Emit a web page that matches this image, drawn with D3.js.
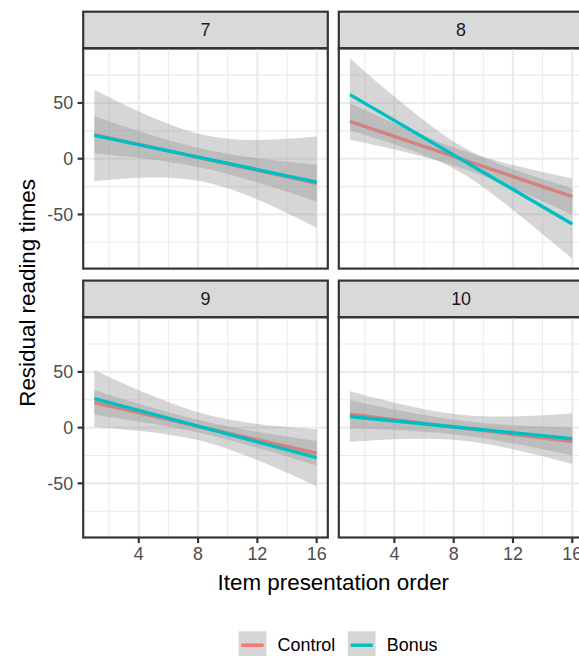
<!DOCTYPE html>
<html>
<head>
<meta charset="utf-8">
<script src="https://cdn.jsdelivr.net/npm/d3@7"></script>
<style>
  body { margin: 0; background: #fff; }
  svg { display: block; font-family: "Liberation Sans", Arial, Helvetica, sans-serif; }
</style>
</head>
<body>
<svg width="579" height="656"></svg>
<script>
// facets and groups
const facets = ["7", "8", "9", "10"];
const groups = ["Control", "Bonus"];

// fitted line ends (x = 1 and x = 16), one pair per facet
const fitX = [1, 16];
const fitControl = [[21.5, -22], [33.5, -34], [22.5, -23], [12, -12.5]];
const fitBonus = [[21, -21], [57.5, -58.5], [26, -27], [10, -10]];

// confidence band, read at these x positions
const ciX = [1, 3, 5, 7, 8.5, 10, 12, 14, 16];
const loControl = [
    [4.8, 2.2, -0.9, -4.9, -8.8, -13.6, -21.2, -29.7, -38.7],
    [17.3, 11.4, 5.1, -2.0, -8.3, -15.5, -26.4, -38.1, -50.2],
    [11.5, 7.5, 3.2, -1.7, -6.0, -10.8, -18.1, -25.9, -34],
    [-0.5, -1.5, -2.7, -4.6, -6.8, -9.5, -14.2, -19.4, -25]
];
const hiControl = [
    [38.2, 29.2, 20.7, 13.1, 8.3, 4.4, 0.4, -2.7, -5.3],
    [49.7, 37.6, 25.9, 15.0, 7.8, 1.5, -5.6, -11.9, -17.8],
    [33.5, 25.4, 17.6, 10.3, 5.5, 1.2, -3.7, -8.0, -12],
    [24.5, 18.9, 13.7, 9.0, 6.3, 4.1, 2.2, 1.0, 0]
];
const loBonus = [
    [-20, -17.9, -16.9, -18.0, -21, -26.4, -36.5, -48.7, -62],
    [25.5, 17.2, 8.3, -2.3, -12.5, -25.5, -45.9, -67.8, -89.6],
    [0.5, -1.6, -4.3, -8.5, -13, -19.1, -29.1, -40.4, -52.5],
    [-12.7, -11.1, -10, -10.2, -11.5, -14.2, -19.4, -25.7, -32.7]
];
const hiBonus = [
    [62, 48.7, 36.5, 26.4, 21, 18.0, 16.9, 17.9, 20],
    [90.1, 66.8, 44.9, 24.5, 11.5, 1.3, -9.3, -18.2, -26.5],
    [51.5, 39.4, 28.1, 18.1, 12, 7.5, 3.3, 0.6, -1.5],
    [32.7, 25.7, 19.4, 14.2, 11.5, 10.2, 10, 11.1, 12.7]
];

const xTicks = [4, 8, 12, 16];
const xMinor = [2, 6, 10, 14];
const yTicks = [-50, 0, 50];
const yMinor = [-75, -25, 25, 75];

const fits = { Control: fitControl, Bonus: fitBonus };
const los = { Control: loControl, Bonus: loBonus };
const his = { Control: hiControl, Bonus: hiBonus };

const color = d3.scaleOrdinal().domain(groups).range(["#F8766D", "#00BFC4"]);

const svg = d3.select("svg");

// layout (ggplot theme_bw look)
const left0 = 83.2, top0 = 11.7;
const panelW = 244.6, panelH = 220.3, stripH = 36.6;
const gapX = 11, gapY = 12;
const border = "#333333";
const lw = 2.17;

// scales shared by all panels, 5% expansion like ggplot
function expand(ext) {
    const d = ext[1] - ext[0];
    return [ext[0] - d * 0.05, ext[1] + d * 0.05];
}
const xExt = d3.extent(ciX.concat(fitX));
const yAll = [].concat(...loControl, ...hiControl, ...loBonus, ...hiBonus);
const yExt = d3.extent(yAll);

const x = d3.scaleLinear().domain(expand(xExt)).range([0, panelW]);
const y = d3.scaleLinear().domain(expand(yExt)).range([panelH, 0]);

const area = d3.area()
    .x(d => x(d.x))
    .y0(d => y(d.lo))
    .y1(d => y(d.hi))
    .curve(d3.curveCatmullRom.alpha(0.5));

const line = d3.line()
    .x(d => x(d.x))
    .y(d => y(d.y));

facets.forEach((f, i) => {
    const col = i % 2, row = Math.floor(i / 2);
    const px = left0 + col * (panelW + gapX);
    const sy = top0 + row * (stripH + panelH + gapY);
    const py = sy + stripH;

    // strip
    svg.append("rect")
        .attr("x", px).attr("y", sy)
        .attr("width", panelW).attr("height", stripH)
        .attr("fill", "#D9D9D9")
        .attr("stroke", border).attr("stroke-width", lw);
    svg.append("text")
        .attr("x", px + panelW / 2).attr("y", sy + stripH / 2)
        .attr("dy", "0.35em")
        .attr("text-anchor", "middle")
        .attr("fill", "#1A1A1A")
        .style("font-size", "17.9px")
        .text(f);

    const g = svg.append("g").attr("transform", `translate(${px},${py})`);

    g.append("clipPath").attr("id", "clip" + i)
        .append("rect").attr("width", panelW).attr("height", panelH);

    const inner = g.append("g").attr("clip-path", `url(#clip${i})`);

    // grid
    inner.selectAll(".xminor").data(xMinor).enter().append("line")
        .attr("x1", d => x(d)).attr("x2", d => x(d))
        .attr("y1", 0).attr("y2", panelH)
        .attr("stroke", "#EBEBEB").attr("stroke-width", 1.09);
    inner.selectAll(".yminor").data(yMinor).enter().append("line")
        .attr("y1", d => y(d)).attr("y2", d => y(d))
        .attr("x1", 0).attr("x2", panelW)
        .attr("stroke", "#EBEBEB").attr("stroke-width", 1.09);
    inner.selectAll(".xmajor").data(xTicks).enter().append("line")
        .attr("x1", d => x(d)).attr("x2", d => x(d))
        .attr("y1", 0).attr("y2", panelH)
        .attr("stroke", "#EBEBEB").attr("stroke-width", lw);
    inner.selectAll(".ymajor").data(yTicks).enter().append("line")
        .attr("y1", d => y(d)).attr("y2", d => y(d))
        .attr("x1", 0).attr("x2", panelW)
        .attr("stroke", "#EBEBEB").attr("stroke-width", lw);

    // ribbon then line, group by group (Control line sits under Bonus ribbon)
    groups.forEach(grp => {
        const band = ciX.map((v, k) => ({ x: v, lo: los[grp][i][k], hi: his[grp][i][k] }));
        inner.append("path")
            .datum(band)
            .attr("d", area)
            .attr("fill", "#999999")
            .attr("fill-opacity", 0.4);
        const fit = fitX.map((v, k) => ({ x: v, y: fits[grp][i][k] }));
        inner.append("path")
            .datum(fit)
            .attr("d", line)
            .attr("fill", "none")
            .attr("stroke", color(grp))
            .attr("stroke-width", 3.4);
    });

    // panel border
    g.append("rect")
        .attr("width", panelW).attr("height", panelH)
        .attr("fill", "none")
        .attr("stroke", border).attr("stroke-width", lw);

    // y axis on the left column
    if (col === 0) {
        g.selectAll(".ytick").data(yTicks).enter().append("line")
            .attr("x1", -5.6).attr("x2", 0)
            .attr("y1", d => y(d)).attr("y2", d => y(d))
            .attr("stroke", border).attr("stroke-width", lw);
        g.selectAll(".ylab").data(yTicks).enter().append("text")
            .attr("x", -10.1)
            .attr("y", d => y(d))
            .attr("dy", "0.35em")
            .attr("text-anchor", "end")
            .attr("fill", "#4D4D4D")
            .style("font-size", "17.9px")
            .text(d => d);
    }

    // x axis on the bottom row
    if (row === 1) {
        g.selectAll(".xtick").data(xTicks).enter().append("line")
            .attr("x1", d => x(d)).attr("x2", d => x(d))
            .attr("y1", panelH).attr("y2", panelH + 5.6)
            .attr("stroke", border).attr("stroke-width", lw);
        g.selectAll(".xlab").data(xTicks).enter().append("text")
            .attr("x", d => x(d))
            .attr("y", panelH + 23)
            .attr("text-anchor", "middle")
            .attr("fill", "#4D4D4D")
            .style("font-size", "17.9px")
            .text(d => d);
    }
});

// axis titles
const plotTop = top0 + stripH;
const plotBottom = top0 + 2 * (stripH + panelH) + gapY;
svg.append("text")
    .attr("x", left0 + (2 * panelW + gapX) / 2)
    .attr("y", 589.5)
    .attr("text-anchor", "middle")
    .style("font-size", "22.4px")
    .text("Item presentation order");

svg.append("text")
    .attr("transform", `translate(35,${(plotTop + plotBottom) / 2}) rotate(-90)`)
    .attr("text-anchor", "middle")
    .style("font-size", "22.4px")
    .text("Residual reading times");

// legend
const keySize = 27.8;
const legendY = 631.3;
const legendX = [238.6, 347.8];
const legend = svg.append("g");
groups.forEach((grp, k) => {
    const lx = legendX[k];
    legend.append("rect")
        .attr("x", lx).attr("y", legendY)
        .attr("width", keySize).attr("height", keySize)
        .attr("fill", "#999999").attr("fill-opacity", 0.4);
    legend.append("line")
        .attr("x1", lx + 2.8).attr("x2", lx + keySize - 2.8)
        .attr("y1", legendY + keySize / 2).attr("y2", legendY + keySize / 2)
        .attr("stroke", color(grp)).attr("stroke-width", 3.4);
    legend.append("text")
        .attr("x", lx + keySize + 11.2)
        .attr("y", legendY + keySize / 2)
        .attr("dy", "0.35em")
        .style("font-size", "17.9px")
        .text(grp);
});
</script>
</body>
</html>
